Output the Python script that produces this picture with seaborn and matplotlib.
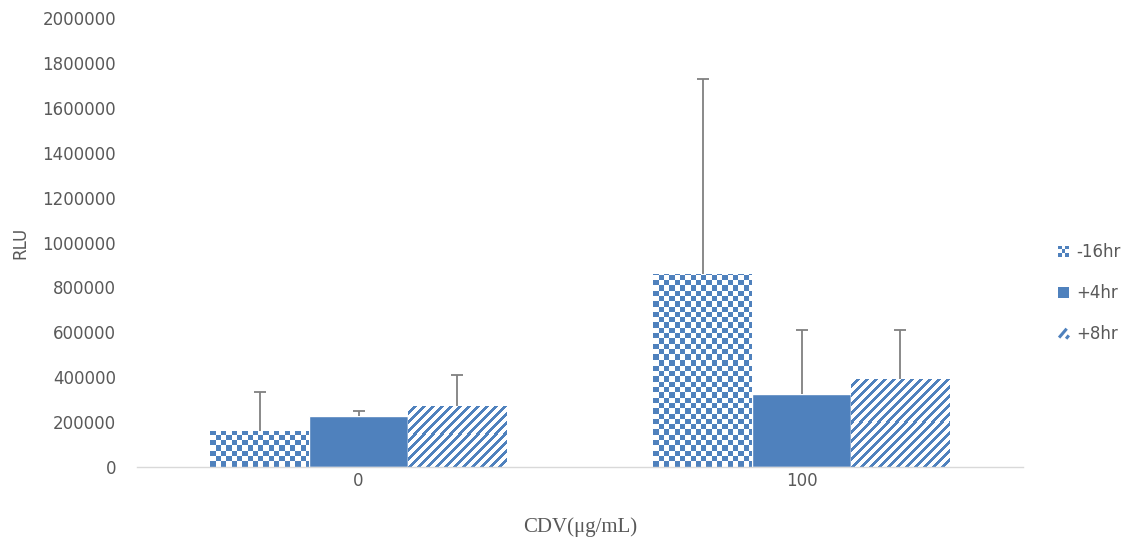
import numpy as np
import pandas as pd
import matplotlib
matplotlib.use("Agg")
import matplotlib.pyplot as plt
import seaborn as sns
from matplotlib.colors import ListedColormap
from matplotlib.patches import Rectangle, Patch
from matplotlib.legend_handler import HandlerBase

# Luciferase readout (RLU) by CDV concentration and time of addition
categories = ["0", "100"]
series = ["-16hr", "+4hr", "+8hr"]
mean_m16 = [160000, 860000]
mean_p4 = [228000, 325000]
mean_p8 = [272000, 392000]
sd_m16 = [175000, 868000]
sd_p4 = [20000, 285000]
sd_p8 = [138000, 220000]
y_ticks = [0, 200000, 400000, 600000, 800000, 1000000, 1200000,
           1400000, 1600000, 1800000, 2000000]

BLUE = "#4F81BD"
GREY_TXT = "#595959"
ERR = "#808080"

sns.set_theme(style="white")
plt.rcParams["font.family"] = ["DejaVu Sans"]
plt.rcParams["hatch.linewidth"] = 1.6

means = {"-16hr": mean_m16, "+4hr": mean_p4, "+8hr": mean_p8}
sds = {"-16hr": sd_m16, "+4hr": sd_p4, "+8hr": sd_p8}
df = pd.DataFrame(
    [(c, s, means[s][i]) for s in series for i, c in enumerate(categories)],
    columns=["CDV", "time", "RLU"],
)

W, H = 1139, 546
fig = plt.figure(figsize=(W / 100, H / 100), dpi=100)
ax = fig.add_axes([137 / W, (H - 467) / H, (1023 - 137) / W, (467 - 18) / H])

sns.barplot(data=df, x="CDV", y="RLU", hue="time", order=categories,
            hue_order=series, palette=[BLUE] * 3, saturation=1,
            width=0.67, errorbar=None, legend=False, ax=ax)

ax.set_xlim(-0.5, 1.5)
ax.set_ylim(0, 2000000)
fig.canvas.draw()

two_tone = ListedColormap(["white", BLUE])
inv = ax.transData.inverted()


def pattern_fill(bar, kind):
    """Fill a bar with a pixel-aligned pattern image clipped to the bar."""
    x0, y0 = bar.get_x(), bar.get_y()
    w, h = bar.get_width(), bar.get_height()
    p0 = ax.transData.transform((x0, y0))
    p1 = ax.transData.transform((x0 + w, y0 + h))
    ncol = int(np.ceil(p1[0] - p0[0])) + 1
    nrow = int(np.ceil(p1[1] - p0[1])) + 1
    ii, jj = np.meshgrid(np.arange(ncol), np.arange(nrow))
    if kind == "checker":
        cell = 5.3
        grid = ((np.floor(ii / cell) + np.floor(jj / cell)) % 2 == 0)
    else:
        period, thick = 9.0, 3.8
        grid = ((ii - jj) % period) < thick
    e1 = inv.transform((p0[0] + ncol, p0[1] + nrow))
    bar.set_facecolor("white")
    im = ax.imshow(grid.astype(float), cmap=two_tone, vmin=0, vmax=1,
                   origin="lower", interpolation="nearest", aspect="auto",
                   extent=[x0, e1[0], y0, e1[1]],
                   zorder=bar.get_zorder() + 0.1)
    im.set_clip_path(bar)


for bar in ax.containers[0]:
    pattern_fill(bar, "checker")
for bar in ax.containers[2]:
    pattern_fill(bar, "stripes")

ax.set_xlim(-0.5, 1.5)
ax.set_ylim(0, 2000000)

# upper-only error bars at the bar centres
for cont, s in zip(ax.containers, series):
    xs = [b.get_x() + b.get_width() / 2 for b in cont]
    ys = [b.get_height() for b in cont]
    eb = ax.errorbar(xs, ys, yerr=[np.zeros(len(ys)), sds[s]], fmt="none",
                     ecolor=ERR, elinewidth=1.3, capsize=4, capthick=1.3,
                     zorder=5)
    for cap in eb[1]:
        if np.allclose(cap.get_ydata(), ys):
            cap.set_visible(False)

ax.set_yticks(y_ticks)
ax.set_yticklabels([str(v) for v in y_ticks])
ax.tick_params(axis="y", length=0, pad=15, labelsize=12, labelcolor=GREY_TXT)
ax.tick_params(axis="x", length=0, pad=3.5, labelsize=12, labelcolor=GREY_TXT)

for side in ["top", "right", "left"]:
    ax.spines[side].set_visible(False)
ax.spines["bottom"].set_color("#D9D9D9")
ax.spines["bottom"].set_linewidth(1.0)
ax.grid(False)

ax.set_xlabel("CDV(μg/mL)", family=["Liberation Serif", "DejaVu Serif"],
              fontsize=15, color=GREY_TXT, va="center")
ax.xaxis.set_label_coords(0.5, -(527 - 467) / 449)
ax.set_ylabel("RLU", fontsize=12, color=GREY_TXT, va="center", ha="center")
ax.yaxis.set_label_coords((20 - 137) / 886, (467 - 243) / 449)


class CheckerHandler(HandlerBase):
    def create_artists(self, legend, orig_handle, xdescent, ydescent,
                       width, height, fontsize, trans):
        n = 3
        cw, ch = width / n, height / n
        arts = []
        for i in range(n):
            for j in range(n):
                arts.append(Rectangle((-xdescent + i * cw, -ydescent + j * ch),
                                      cw, ch, linewidth=0,
                                      facecolor=BLUE if (i + j) % 2 == 0 else "white",
                                      transform=trans))
        return arts


class StripeHandler(HandlerBase):
    def create_artists(self, legend, orig_handle, xdescent, ydescent,
                       width, height, fontsize, trans):
        x0, y0 = -xdescent, -ydescent
        from matplotlib.lines import Line2D
        main = Line2D([x0 + 0.1 * width, x0 + 0.8 * width],
                      [y0 + 0.1 * height, y0 + 0.9 * height],
                      color=BLUE, linewidth=2.2, solid_capstyle="butt",
                      transform=trans)
        dot = Line2D([x0 + 0.75 * width, x0 + 1.0 * width],
                     [y0 + 0.0 * height, y0 + 0.3 * height],
                     color=BLUE, linewidth=2.2, solid_capstyle="butt",
                     transform=trans)
        return [main, dot]


h_checker = Patch(facecolor="white", label="-16hr")
h_solid = Patch(facecolor=BLUE, linewidth=0, label="+4hr")
h_stripe = Patch(facecolor="white", label="+8hr")
leg = fig.legend(handles=[h_checker, h_solid, h_stripe],
                 labels=series,
                 handler_map={h_checker: CheckerHandler(),
                              h_stripe: StripeHandler()},
                 loc="center left", bbox_to_anchor=(1058 / W, 1 - 293 / H),
                 frameon=False, fontsize=12, handlelength=0.65,
                 handleheight=0.65, handletextpad=0.45, labelspacing=1.38,
                 borderpad=0, borderaxespad=0)
for t in leg.get_texts():
    t.set_color(GREY_TXT)

fig.savefig("out.png", dpi=100, facecolor="white")
